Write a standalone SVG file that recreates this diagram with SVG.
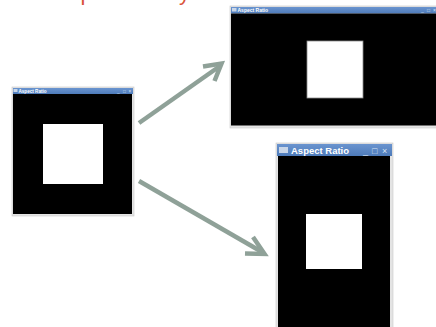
<svg xmlns="http://www.w3.org/2000/svg" width="436" height="327" viewBox="0 0 436 327">
  <defs>
    <linearGradient id="titlebar" x1="0" y1="0" x2="0" y2="1">
      <stop offset="0" stop-color="#6A94CF"/>
      <stop offset="1" stop-color="#4E7BBA"/>
    </linearGradient>
  </defs>
  <style>
    .frame { fill: #E4E4E4; stroke: #C8C8C8; stroke-width: 0.6; }
    .bar { fill: url(#titlebar); }
    .client { fill: #000000; }
    .box { fill: #FFFFFF; }
    .cap { font-family: "Liberation Sans", Arial, sans-serif; font-weight: bold; fill: #FFFFFF; }
    .btn { font-family: "Liberation Sans", Arial, sans-serif; fill: #D8E4F4; }
    .arrow { fill: none; stroke: #8FA198; stroke-width: 4.5; stroke-linecap: butt; stroke-linejoin: miter; }
    .head { fill: none; stroke: #8FA198; stroke-width: 4.5; stroke-linecap: butt; stroke-linejoin: miter; }
    .heading { font-family: "Liberation Sans", Arial, sans-serif; font-size: 22px; fill: #D9533A; }
  </style>

  <!-- heading line sitting above the top edge; only descenders show -->
  <text class="heading" y="-0.5"><tspan x="80.5">p</tspan><tspan x="179">y</tspan></text>

  <!-- original window -->
  <g id="window-original">
    <rect class="frame" x="12" y="87" width="122" height="129"/>
    <rect class="bar" x="13" y="88" width="120" height="6"/>
    <rect x="13.5" y="89" width="4" height="3" fill="#C9D6E8"/>
    <text class="cap" x="18.5" y="92.8" font-size="4.6">Aspect Ratio</text>
    <text class="btn" font-size="4.6" y="93"><tspan x="117">_</tspan><tspan x="123">□</tspan><tspan x="128.5">×</tspan></text>
    <rect class="client" x="13" y="94" width="119" height="120"/>
    <rect class="box" x="43" y="124" width="60" height="60"/>
  </g>

  <!-- window stretched wide -->
  <g id="window-wide">
    <rect class="frame" x="230" y="6" width="212" height="122"/>
    <rect class="bar" x="231" y="7" width="211" height="6.5"/>
    <rect x="232" y="8" width="4.5" height="3.5" fill="#C9D6E8"/>
    <text class="cap" x="237.5" y="12" font-size="5">Aspect Ratio</text>
    <text class="btn" font-size="5" y="12.2"><tspan x="421">_</tspan><tspan x="427">□</tspan><tspan x="433">×</tspan></text>
    <rect class="client" x="231" y="13.5" width="211" height="112"/>
    <rect class="box" x="307" y="41" width="56" height="57" stroke="#8A8A8A" stroke-width="0.8"/>
  </g>

  <!-- window stretched tall -->
  <g id="window-tall">
    <rect class="frame" x="276" y="143" width="117" height="190"/>
    <rect class="bar" x="277" y="144" width="115" height="12"/>
    <rect x="279" y="147" width="9" height="6" fill="#C9D6E8"/>
    <text class="cap" x="291" y="153.5" font-size="9.5">Aspect Ratio</text>
    <text class="btn" font-size="9" y="154"><tspan x="363">_</tspan><tspan x="372">□</tspan><tspan x="382">×</tspan></text>
    <rect class="client" x="278" y="156" width="112" height="175"/>
    <rect class="box" x="306" y="214" width="56" height="55"/>
  </g>

  <!-- connectors -->
  <g id="connectors">
    <line class="arrow" x1="139" y1="123" x2="220" y2="66"/>
    <polyline class="head" points="203,66.5 221.5,63.5 214.5,81"/>
    <line class="arrow" x1="139" y1="181" x2="262" y2="252"/>
    <polyline class="head" points="253,237 264.5,254 245,253.5"/>
  </g>
</svg>
